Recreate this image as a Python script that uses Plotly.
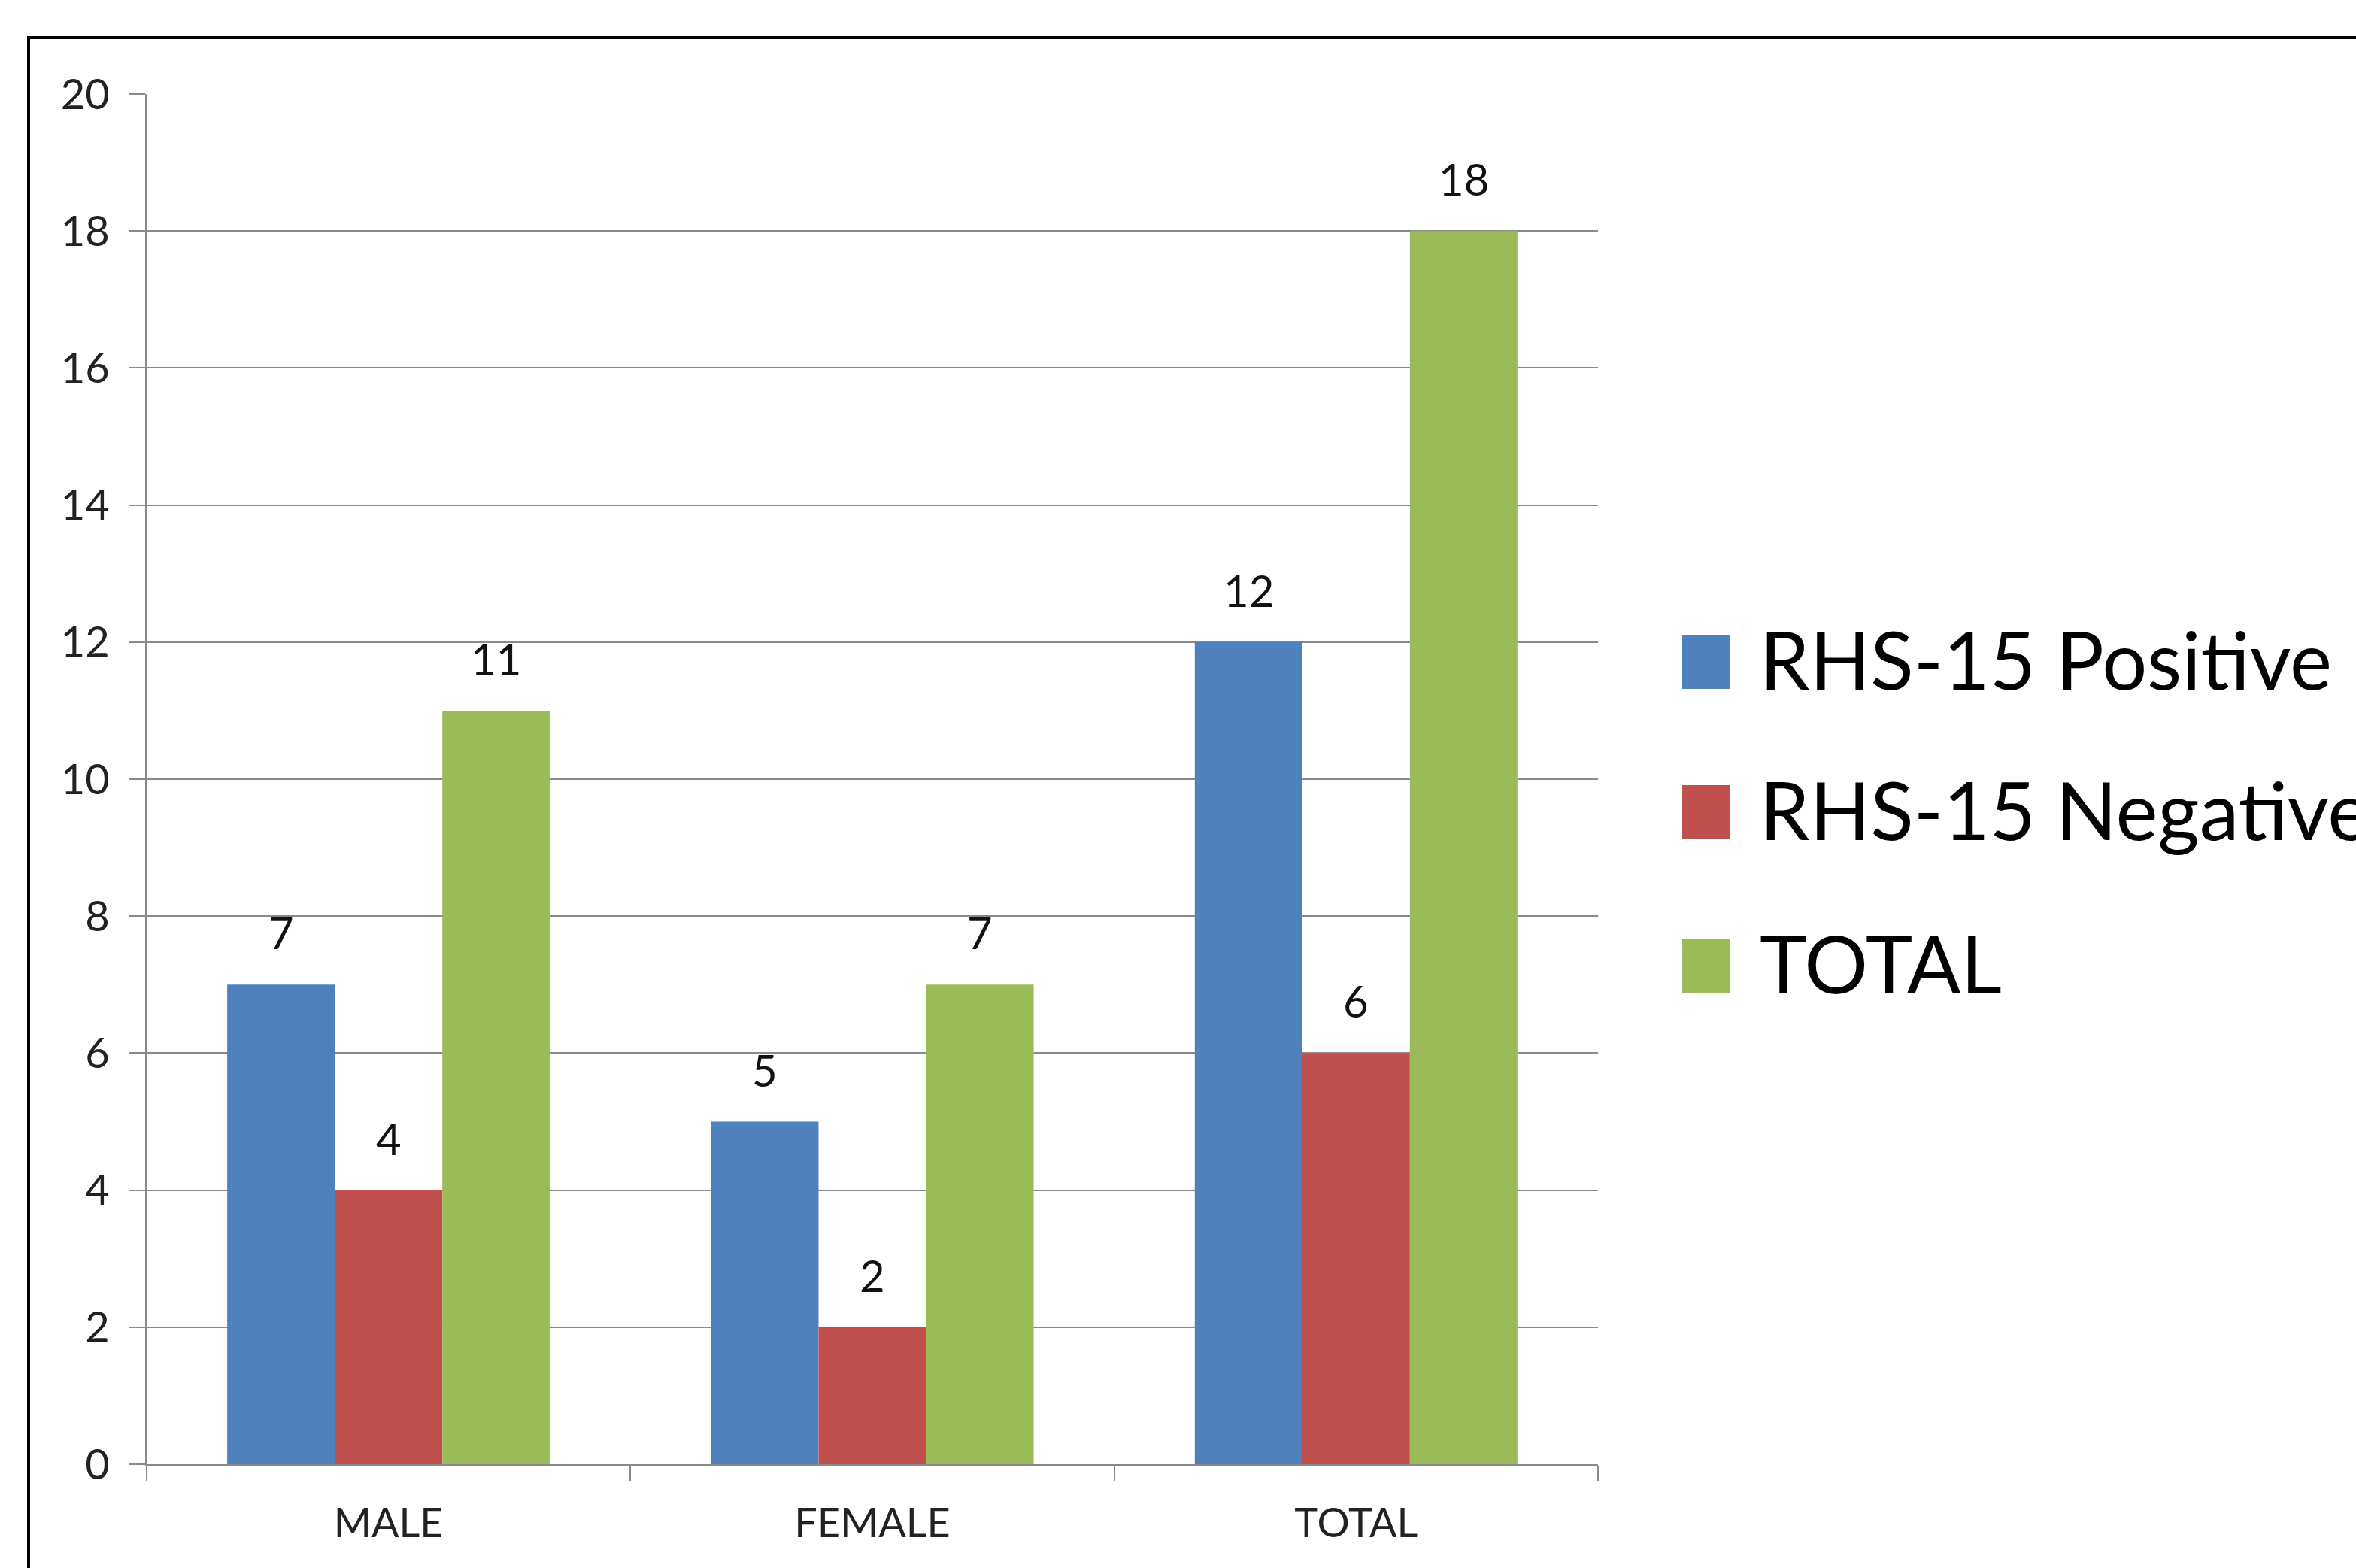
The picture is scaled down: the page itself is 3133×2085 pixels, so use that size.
import plotly.graph_objects as go

categories = ["MALE", "FEMALE", "TOTAL"]
series_names = ["RHS-15 Positive", "RHS-15 Negative", "TOTAL"]
positive = [7, 5, 12]
negative = [4, 2, 6]
total = [11, 7, 18]
series_values = [positive, negative, total]
colors = ["#4F81BD", "#C0504D", "#9BBB59"]
y_ticks = [0, 2, 4, 6, 8, 10, 12, 14, 16, 18, 20]

W, H = 3133, 2085
L, R, T, B = 195, 2125, 125, 1947
PW, PH = R - L, B - T
BARGAP = 0.333
FONT = "Lato, sans-serif"
GRID = "#8a8a8a"


def px_x(px):
    return (px - L) / PW


def px_y(py):
    return (B - py) / PH


fig = go.Figure()
for name, vals, col in zip(series_names, series_values, colors):
    fig.add_trace(go.Bar(x=categories, y=vals, name=name,
                         marker=dict(color=col, line=dict(width=0)),
                         showlegend=False))

bar_px = PW / len(categories) * (1 - BARGAP) / len(series_names)
annotations = []
for j, vals in enumerate(series_values):
    for cat, v in zip(categories, vals):
        annotations.append(dict(x=cat, y=v, xref="x", yref="y", text=str(v),
                                showarrow=False, xanchor="center", yanchor="bottom",
                                xshift=(j - 1) * bar_px, yshift=33,
                                font=dict(family=FONT, size=58, color="#111111")))

shapes = [dict(type="rect", xref="paper", yref="paper",
               x0=px_x(38), x1=px_x(3300), y0=px_y(2300), y1=px_y(50),
               line=dict(color="black", width=4), fillcolor="rgba(0,0,0,0)")]

legend_rows = [880, 1080, 1284]
for name, col, cy in zip(series_names, colors, legend_rows):
    shapes.append(dict(type="rect", xref="paper", yref="paper",
                       x0=px_x(2237), x1=px_x(2301), y0=px_y(cy + 36), y1=px_y(cy - 36),
                       line=dict(width=0), fillcolor=col))
    annotations.append(dict(x=px_x(2338), y=px_y(cy), xref="paper", yref="paper",
                            text=name, showarrow=False, xanchor="left", yanchor="middle",
                            yshift=4,
                            font=dict(family=FONT, size=106, color="black")))

fig.update_layout(
    width=W, height=H,
    margin=dict(l=L, r=W - R, t=T, b=H - B, pad=0),
    paper_bgcolor="white", plot_bgcolor="white",
    barmode="group", bargap=BARGAP, bargroupgap=0,
    font=dict(family=FONT, size=56, color="#222222"),
    shapes=shapes, annotations=annotations,
)
fig.update_yaxes(range=[0, 20], tickvals=y_ticks, showgrid=True, gridcolor=GRID, gridwidth=2,
                 showline=True, linecolor=GRID, linewidth=2,
                 ticks="outside", ticklen=22, tickcolor=GRID, tickwidth=2,
                 ticklabelstandoff=14, zeroline=False,
                 tickfont=dict(family=FONT, size=56, color="#222222"))
fig.update_xaxes(showline=True, linecolor=GRID, linewidth=2,
                 ticks="outside", tickson="boundaries", ticklen=20, tickcolor=GRID, tickwidth=2,
                 ticklabelstandoff=30,
                 tickfont=dict(family=FONT, size=54, color="#222222"))

fig.write_html("out.html")
